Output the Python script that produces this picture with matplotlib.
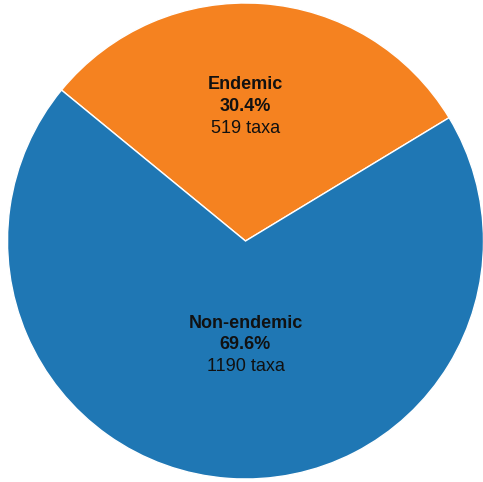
import matplotlib
matplotlib.use("Agg")
import matplotlib.pyplot as plt

categories = ["Endemic", "Non-endemic"]
percents = [30.4, 69.6]
taxa = [519, 1190]
colors = ["#f58220", "#1f77b4"]

W, H = 483, 482
fig = plt.figure(figsize=(W / 100, H / 100), dpi=100)
ax = fig.add_axes([0, 0, 1, 1])
ax.set_xlim(0, W)
ax.set_ylim(H, 0)
ax.axis("off")

cx, cy, r = 245.5, 241.0, 238.0
# y axis inverted -> counterclock False gives visually counterclockwise
ax.pie(percents, colors=colors, startangle=-31.2, counterclock=False,
       center=(cx, cy), radius=r, frame=True,
       wedgeprops=dict(edgecolor="white", linewidth=1.0))
ax.set_xlim(0, W)
ax.set_ylim(H, 0)
ax.set_aspect("equal")
ax.axis("off")

font = ["Liberation Sans", "DejaVu Sans"]
fs = 13
tc = "#111111"
label_y = [(89.2, 111.4, 133.1), (327.7, 349.2, 371.1)]
for cat, pct, n, ys in zip(categories, percents, taxa, label_y):
    ax.text(cx, ys[0], cat, ha="center", va="baseline", fontsize=fs,
            fontweight="bold", family=font, color=tc)
    ax.text(cx, ys[1], f"{pct:.1f}%", ha="center", va="baseline", fontsize=fs,
            fontweight="bold", family=font, color=tc)
    ax.text(cx, ys[2], f"{n} taxa", ha="center", va="baseline", fontsize=fs,
            family=font, color=tc)

fig.savefig("out.png", dpi=100)
